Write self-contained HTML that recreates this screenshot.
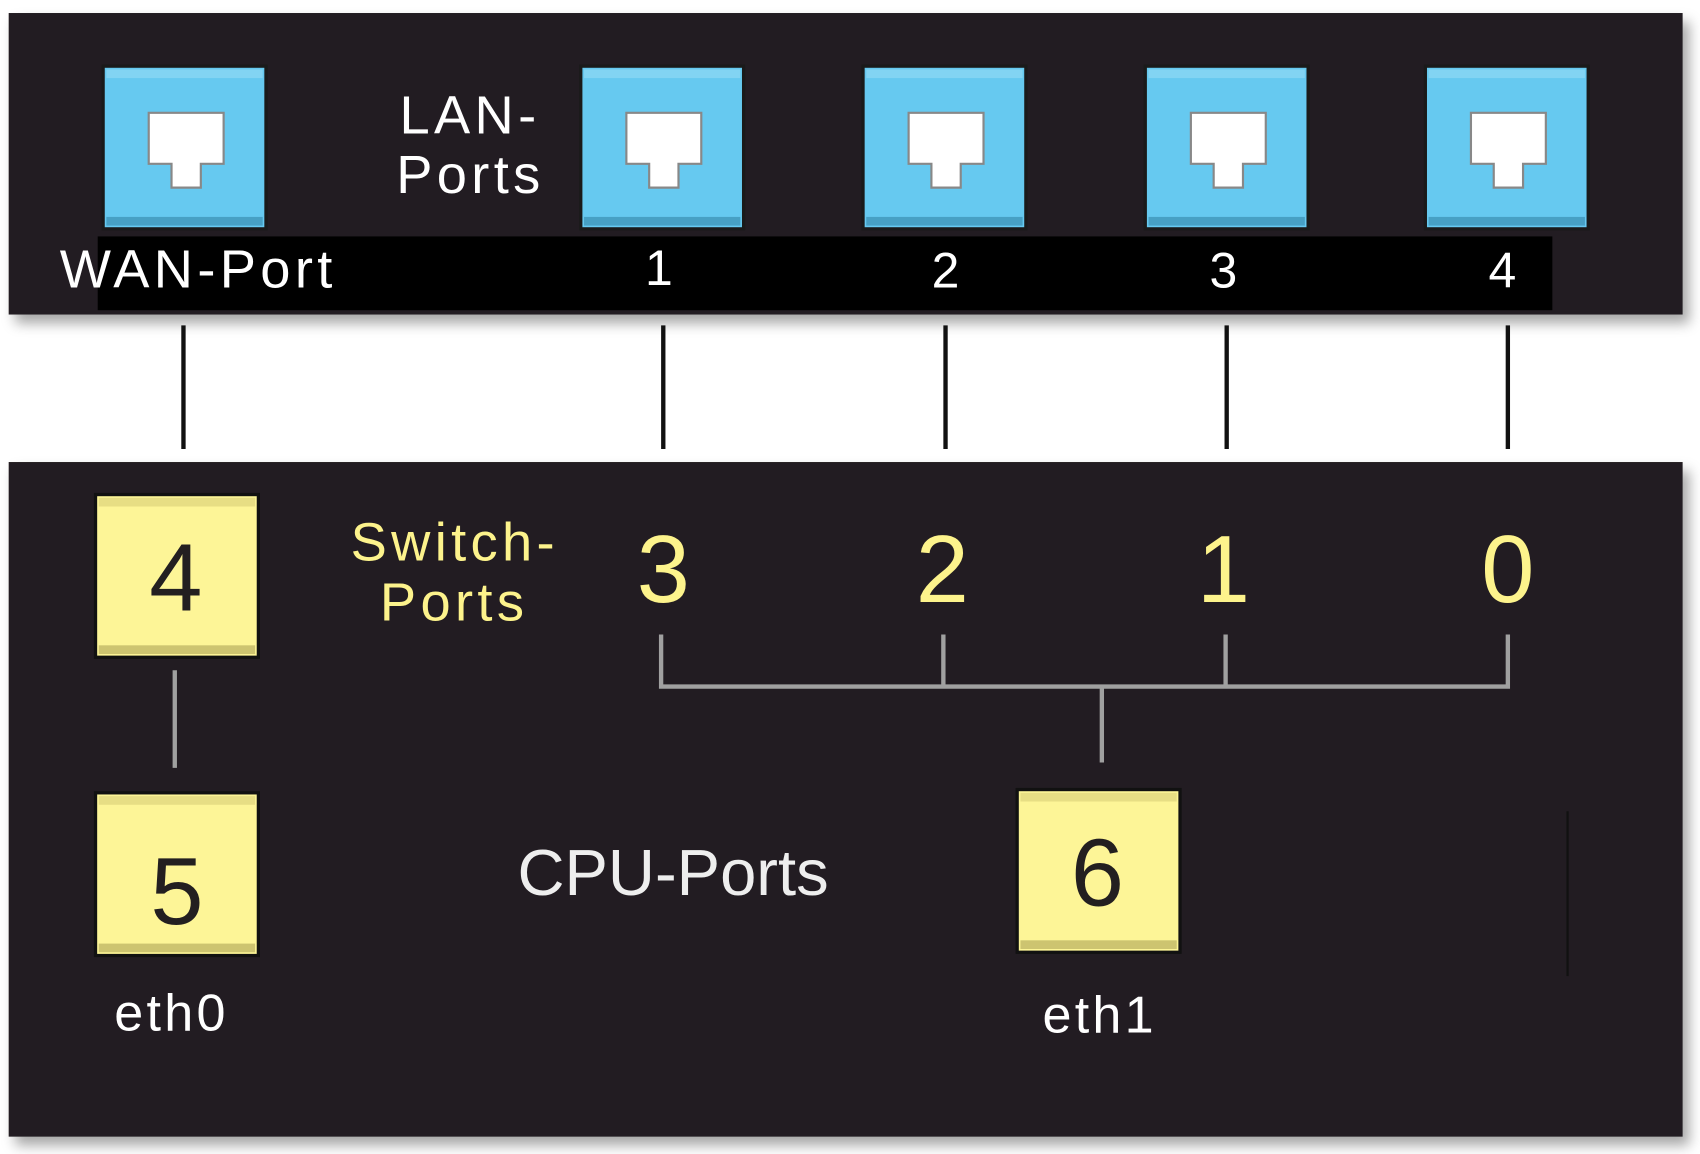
<!DOCTYPE html>
<html><head><style>html,body{margin:0;padding:0;background:#fff}svg{display:block}</style></head>
<body>
<svg width="1700" height="1154" viewBox="0 0 1566 1064" preserveAspectRatio="none" xmlns="http://www.w3.org/2000/svg" font-family="'Liberation Sans', 'DejaVu Sans', sans-serif">
<defs>
<filter id="sh" x="-5%" y="-10%" width="115%" height="130%"><feDropShadow dx="6" dy="8" stdDeviation="6" flood-color="#000" flood-opacity="0.35"/></filter>
<g id="port">
<rect x="0" y="0" width="150" height="150" fill="#66c9f0" stroke="#1a1a1a" stroke-width="3"/>
<rect x="3" y="3" width="144" height="8" fill="#8fd8f4" opacity="0.7"/>
<rect x="3" y="139" width="144" height="8" fill="#3a8fb0" opacity="0.7"/>
<path d="M42 43 H111 V90 H90 V112 H63 V90 H42 Z" fill="#fff" stroke="#888" stroke-width="2"/>
</g>
<g id="ybox">
<rect x="0" y="0" width="150" height="150" fill="#fdf597" stroke="#111" stroke-width="3"/>
<rect x="3" y="3" width="144" height="8" fill="#d8cf78" opacity="0.6"/>
<rect x="3" y="139" width="144" height="8" fill="#b8af60" opacity="0.7"/>
</g>
</defs>
<rect width="1566" height="1064" fill="#fff"/>
<rect x="8" y="12" width="1542" height="278" fill="#231f20" filter="url(#sh)"/>
<rect x="90" y="218" width="1340" height="68" fill="#000"/>
<use href="#port" x="95" y="61"/>
<use href="#port" x="535" y="61"/>
<use href="#port" x="795" y="61"/>
<use href="#port" x="1055" y="61"/>
<use href="#port" x="1313" y="61"/>
<g fill="#fff" font-size="50" letter-spacing="4">
<text x="368" y="123">LAN-</text>
<text x="365" y="178">Ports</text>
<text x="55" y="265">WAN-Port</text>
</g>
<g fill="#fff" font-size="46" text-anchor="middle">
<text x="607" y="263">1</text><text x="871" y="265">2</text><text x="1127" y="265">3</text><text x="1384" y="265">4</text>
</g>
<g stroke="#111" stroke-width="4">
<line x1="169" y1="300" x2="169" y2="414"/><line x1="611" y1="300" x2="611" y2="414"/><line x1="871" y1="300" x2="871" y2="414"/><line x1="1130" y1="300" x2="1130" y2="414"/><line x1="1389" y1="300" x2="1389" y2="414"/>
</g>
<rect x="8" y="426" width="1542" height="622" fill="#231f20" filter="url(#sh)"/>
<use href="#ybox" x="88" y="456"/>
<use href="#ybox" x="88" y="731"/>
<use href="#ybox" x="937" y="728"/>
<g fill="#231f20" font-size="88" text-anchor="middle">
<text x="162" y="563">4</text><text x="163" y="852">5</text><text x="1011" y="835">6</text>
</g>
<g stroke="#a0a0a0" stroke-width="4" fill="none">
<line x1="161" y1="618" x2="161" y2="708"/>
<path d="M609 585 V633 H1389 V585 M869 585 V633 M1129 585 V633 M1015 633 V703"/>
</g>
<line x1="1444" y1="748" x2="1444" y2="900" stroke="#111" stroke-width="2"/>
<g fill="#fdf38c" font-size="50" letter-spacing="4">
<text x="323" y="517">Switch-</text>
<text x="350" y="572">Ports</text>
</g>
<g fill="#fdf38c" font-size="88" text-anchor="middle">
<text x="611" y="555">3</text><text x="868" y="555">2</text><text x="1127" y="555">1</text><text x="1389" y="555">0</text>
</g>
<text x="620" y="825" fill="#eee" font-size="60" text-anchor="middle">CPU-Ports</text>
<g fill="#fff" font-size="48" letter-spacing="3" text-anchor="middle">
<text x="158" y="950">eth0</text><text x="1013" y="952">eth1</text>
</g>
</svg>
</body></html>
